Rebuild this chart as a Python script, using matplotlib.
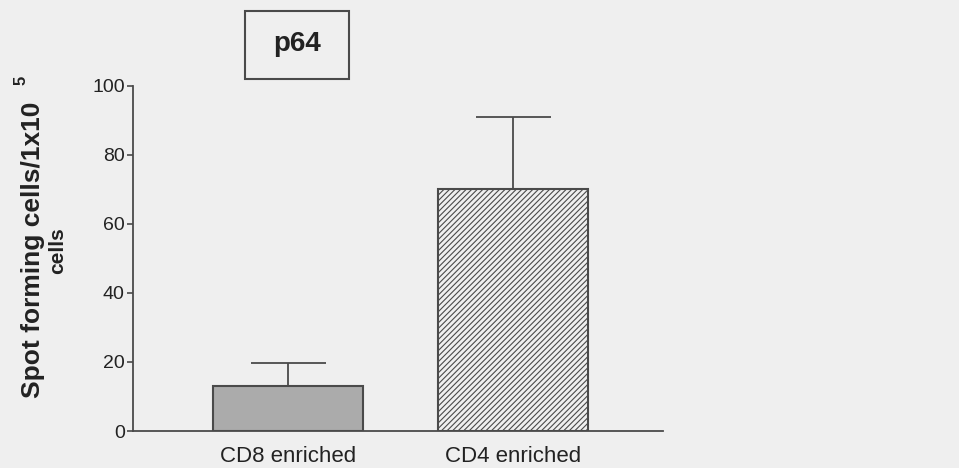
"""
    p64 spot forming cells, CD8 vs CD4 enriched
"""

import matplotlib
matplotlib.use("Agg")
import matplotlib.pyplot as plt
from matplotlib.patches import Rectangle

plt.rcParams["font.family"] = ["Liberation Sans", "DejaVu Sans"]
plt.rcParams["hatch.linewidth"] = 0.8
plt.rcParams["hatch.color"] = "#767676"

categories = ["CD8 enriched", "CD4 enriched"]
means = [13, 70]
err_upper = [6.7, 21]
y_ticks = [0, 20, 40, 60, 80, 100]
title = "p64"

bg = "#efefef"
ink = "#4a4a4a"

fig = plt.figure(figsize=(9.59, 4.68), dpi=100, facecolor=bg)
ax = fig.add_axes([133 / 959, 1 - 431 / 468, 530 / 959, 345 / 468])
ax.set_facecolor(bg)

x = range(len(categories))
bars = ax.bar(x, means, width=0.67, color=["#ababab", bg], edgecolor=ink, linewidth=1.5,
              zorder=2)
bars[1].set_hatch("//////")
ax.errorbar(x, means, yerr=[[0, 0], err_upper], fmt="none", ecolor=ink,
            elinewidth=1.3, capsize=27, capthick=1.3, zorder=1)

ax.set_xlim(-0.69, 1.667)
ax.set_ylim(0, 100)
ax.set_yticks(y_ticks)
ax.set_xticks(list(x))
ax.set_xticklabels(categories, fontsize=16, color="#222222")
ax.tick_params(axis="y", labelsize=14, labelcolor="#222222", length=4, width=1.2,
               color=ink, pad=2)
ax.tick_params(axis="x", length=0, pad=11)

# Hide axis
ax.spines["top"].set_visible(False)
ax.spines["right"].set_visible(False)
for s in ("left", "bottom"):
    ax.spines[s].set_color(ink)
    ax.spines[s].set_linewidth(1.3)

# y label, two lines plus exponent
fig.text(33 / 959, 1 - 250 / 468, "Spot forming cells/1x10", rotation=90,
         ha="center", va="center", fontsize=19, fontweight="bold", color="#222222")
fig.text(21 / 959, 1 - 80 / 468, "5", rotation=90, ha="center", va="center",
         fontsize=12, fontweight="bold", color="#222222")
fig.text(58 / 959, 1 - 251 / 468, "cells", rotation=90, ha="center", va="center",
         fontsize=15, fontweight="bold", color="#222222")

# title box
fig.patches.append(Rectangle((245 / 959, 1 - 79 / 468), 104 / 959, 68 / 468,
                             transform=fig.transFigure, fill=False, ec=ink, lw=1.5))
fig.text(297 / 959, 1 - 44 / 468, title, ha="center", va="center", fontsize=20,
         fontweight="bold", color="#222222")

fig.savefig("out.png", dpi=100, facecolor=bg)
